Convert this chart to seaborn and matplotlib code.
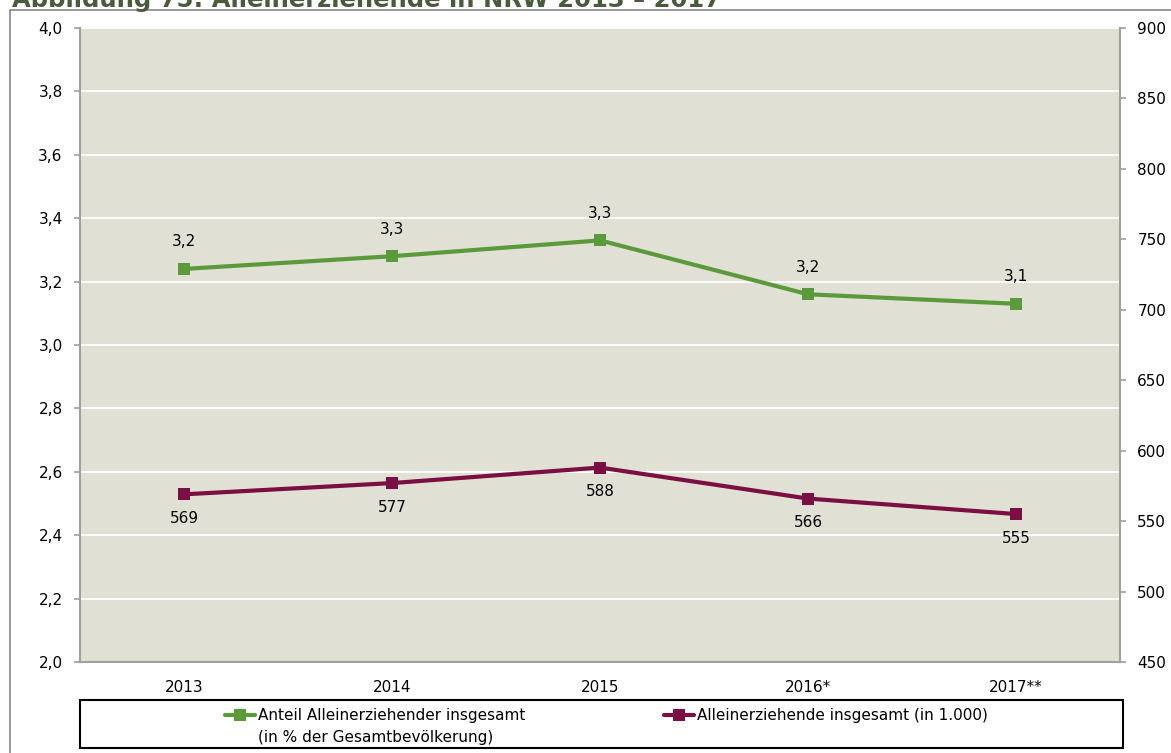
import numpy as np
import pandas as pd
import seaborn as sns
import matplotlib.pyplot as plt
from matplotlib.lines import Line2D
from matplotlib.patches import Rectangle
from matplotlib.ticker import FuncFormatter, FixedLocator

years = ['2013', '2014', '2015', '2016*', '2017**']
anteil = [3.24, 3.28, 3.33, 3.16, 3.13]          # in % der Gesamtbevoelkerung
anteil_labels = ['3,2', '3,3', '3,3', '3,2', '3,1']
insgesamt = [569, 577, 588, 566, 555]            # in 1.000

green = '#5B9A3A'
maroon = '#7B0E43'
bg = '#E0E1D4'
axis_grey = '#A0A0A0'

sns.set_theme(style='white')
plt.rcParams['font.family'] = ['DejaVu Sans']

df = pd.DataFrame({'pos': np.arange(len(years)), 'year': years,
                   'anteil': anteil, 'insgesamt': insgesamt})

W, H = 1171, 753
fig = plt.figure(figsize=(W / 100, H / 100), dpi=100)
ax = fig.add_axes([80 / W, 1 - 662 / H, 1040 / W, 634 / H])
ax.set_facecolor(bg)
ax2 = ax.twinx()

sns.lineplot(data=df, x='pos', y='anteil', ax=ax, color=green, lw=3,
             marker='s', markersize=9, markeredgewidth=0, legend=False)
sns.lineplot(data=df, x='pos', y='insgesamt', ax=ax2, color=maroon, lw=3,
             marker='s', markersize=9, markeredgewidth=0, legend=False)

ax.set_xlim(-0.5, len(years) - 0.5)
ax.set_ylim(2.0, 4.0)
ax2.set_ylim(450, 900)

ax.set_yticks(np.arange(2.0, 4.01, 0.2))
ax.yaxis.set_major_formatter(FuncFormatter(lambda v, p: f'{v:.1f}'.replace('.', ',')))
ax2.set_yticks(np.arange(450, 901, 50))

ax.set_xticks(df['pos'], years)
ax.xaxis.set_minor_locator(FixedLocator(np.arange(-0.5, len(years), 1.0)))
ax.tick_params(axis='x', which='major', length=0, pad=13, labelsize=11, labelcolor='black')
ax.tick_params(axis='x', which='minor', length=5, width=1.2, color=axis_grey, direction='out')
ax.tick_params(axis='y', length=4.5, width=1.2, color=axis_grey, direction='out',
               labelsize=11, pad=8, labelcolor='black')
ax2.tick_params(axis='y', length=4.5, width=1.2, color=axis_grey, direction='out',
                labelsize=11, pad=8, labelcolor='black')
ax.set_xlabel('')
ax.set_ylabel('')
ax2.set_ylabel('')

ax.grid(axis='y', color='white', lw=1.3)
ax.set_axisbelow(True)
for a in (ax, ax2):
    for side, sp in a.spines.items():
        sp.set_color(axis_grey)
        sp.set_linewidth(1.5)
    a.spines['top'].set_visible(False)
ax.spines['right'].set_visible(False)
ax2.spines['left'].set_visible(False)
ax2.spines['bottom'].set_visible(False)

for x, y, t in zip(df['pos'], anteil, anteil_labels):
    ax.annotate(t, (x, y), xytext=(0, 14), textcoords='offset points',
                ha='center', va='bottom', fontsize=11, color='black')
for x, y in zip(df['pos'], insgesamt):
    ax2.annotate(str(y), (x, y), xytext=(0, -12), textcoords='offset points',
                 ha='center', va='top', fontsize=11, color='black')

# outer frame and title (cut off at the top like in the original)
fig.add_artist(Line2D([10 / W, 1], [1 - 10 / H, 1 - 10 / H], color='#888888', lw=1.2))
fig.add_artist(Line2D([10 / W, 10 / W], [0, 1 - 10 / H], color='#888888', lw=1.2))
fig.text(12 / W, 1 - 7 / H, 'Abbildung 75: Alleinerziehende in NRW 2013 \u2013 2017',
         fontsize=17.5, fontweight='bold', color='#4A5A3C', ha='left', va='baseline')

# legend box
fig.add_artist(Rectangle((80 / W, 1 - 748 / H), 1043 / W, 48 / H, transform=fig.transFigure,
                         fill=False, edgecolor='black', lw=1.5))
handles = [Line2D([], [], color=green, lw=3, marker='s', markersize=8, markeredgewidth=0),
           Line2D([], [], color=maroon, lw=3, marker='s', markersize=8, markeredgewidth=0)]
labels = ['Anteil Alleinerziehender insgesamt',
          'Alleinerziehende insgesamt (in 1.000)']
leg = fig.legend(handles, labels, ncol=2, loc='upper left', bbox_to_anchor=(225 / W, 1 - 708 / H),
                 frameon=False, fontsize=11, handlelength=1.95, handletextpad=0.2,
                 columnspacing=9.1, borderpad=0, borderaxespad=0, labelcolor='black')

# second line of the first legend entry, placed under its first line
fig.canvas.draw()
bb = leg.get_texts()[0].get_window_extent().transformed(fig.transFigure.inverted())
fig.text(bb.x0, bb.y0 - 7 / H, '(in % der Gesamtbevölkerung)', fontsize=11,
         color='black', ha='left', va='top')

fig.savefig('out.png', dpi=100)
